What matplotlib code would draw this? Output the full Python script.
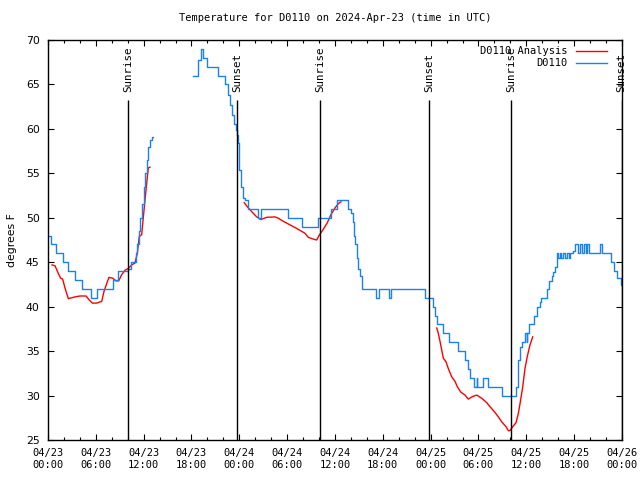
import numpy as np
import pandas as pd
import matplotlib
matplotlib.use('Agg')
import matplotlib.pyplot as plt
import matplotlib.dates as mdates

start = pd.Timestamp('2024-04-23 00:00')

# D0110 observations: hours after 04/23 00:00 UTC, temperature (deg F)
obs1_h = [0.0, 0.38, 1.0, 1.9, 2.5, 3.4, 4.3, 5.45, 6.1, 8.2, 8.8, 10.0, 10.35, 11.05,
          11.2, 11.45, 11.6, 11.8, 12.0, 12.2, 12.45, 12.6, 12.85, 13.1, 13.2]
obs1_t = [48, 47, 46, 45, 44, 43, 42, 41, 42, 43, 44, 44.2, 45, 46,
          47, 48.5, 50, 51.5, 53.5, 55, 56.5, 58, 58.8, 59.1, 59.1]

obs2_h = [18.23, 18.56, 18.85, 19.19, 19.48, 19.9, 21.36, 22.2, 22.6, 22.83, 23.04, 23.33,
          23.58, 23.75, 23.87, 24.0, 24.17, 24.42, 24.71, 25.05, 26.38, 26.72, 30.14, 31.92,
          33.93, 35.56, 36.25, 37.57, 37.97, 38.26, 38.38, 38.51, 38.7, 38.92, 39.14, 39.43,
          41.11, 41.46, 42.81, 42.99, 47.35, 48.33, 48.55, 48.76, 49.55, 50.3, 51.37, 52.25,
          52.72, 52.94, 53.47, 53.78, 53.85, 54.6, 55.23, 56.91, 58.71, 58.9, 59.0, 59.2,
          59.42, 59.83, 60.05, 60.12, 60.38, 60.96, 61.3, 61.72, 61.84, 62.53, 62.88, 63.18,
          63.38, 63.6, 63.81, 64.0, 64.22, 64.4, 64.6, 64.85, 65.1, 65.29, 65.48, 65.9,
          66.1, 66.48, 66.73, 66.98, 67.24, 67.49, 67.65, 67.9, 69.24, 69.46, 70.62, 71.04,
          71.34, 71.84, 72.0]
obs2_t = [66, 66, 67.7, 69, 68, 67, 66, 65, 63.8, 62.7, 61.6, 60.6,
          59.9, 59.3, 58.4, 55.4, 53.5, 52.2, 52, 51, 50, 51, 50, 49,
          50, 51, 52, 51, 50.5, 49.5, 48, 47, 45.5, 44.2, 43.4, 42,
          41, 42, 41, 42, 41, 40, 39, 38, 37, 36, 35, 34,
          33, 32, 31, 32, 31, 32, 31, 30, 31, 33, 34, 35.5,
          36, 37, 36, 37, 38, 39, 40, 40.5, 41, 42, 42.9, 43.4,
          43.9, 44.5, 46, 45.5, 46, 45.5, 46, 45.5, 46, 45.5, 46, 46.3,
          47, 46, 47, 46, 47, 46, 47, 46, 47, 46, 45, 44,
          43.2, 42.4, 42.4]

# D0110 Analysis
ana1_h = [0.5, 0.88, 1.29, 1.59, 1.84, 2.13, 2.55, 2.97, 3.39, 4.01, 4.77, 5.18, 5.56,
          6.11, 6.74, 7.02, 7.36, 7.65, 8.12, 8.53, 8.87, 9.24, 9.66, 10.07, 10.5, 10.91,
          11.2, 11.45, 11.75, 11.95, 12.17, 12.38, 12.58, 12.79]
ana1_t = [44.7, 44.6, 43.75, 43.2, 43.1, 42.1, 40.9, 41.0, 41.1, 41.2, 41.2, 40.75, 40.4,
          40.4, 40.6, 41.7, 42.6, 43.3, 43.2, 42.9, 42.9, 43.6, 44.1, 44.3, 44.7, 44.9,
          46, 47.9, 48.1, 50, 52, 53.9, 55.6, 55.7]

ana2_h = [24.62, 25.0, 25.34, 25.75, 26.18, 26.68, 27.43, 28.47, 28.89, 29.52, 30.36, 31.2,
          32.24, 32.65, 33.28, 33.7, 34.03, 34.53, 35.04, 35.46, 36.0, 36.42, 36.75]
ana2_t = [51.7, 51.25, 50.9, 50.5, 50.1, 49.8, 50.05, 50.1, 49.95, 49.6, 49.2, 48.8,
          48.25, 47.8, 47.6, 47.5, 48.05, 48.7, 49.45, 50.3, 51.1, 51.6, 51.8]

ana3_h = [48.76, 48.96, 49.17, 49.39, 49.59, 49.92, 50.21, 50.64, 51.05, 51.34, 51.77, 52.31,
          52.72, 53.27, 53.78, 54.4, 55.03, 55.44, 55.98, 56.49, 56.91, 57.45, 57.74, 57.95,
          58.29, 58.71, 59.0, 59.21, 59.55, 59.83, 60.12, 60.46, 60.8]
ana3_t = [37.6, 37.0, 36.1, 35.1, 34.2, 33.8, 33.05, 32.1, 31.6, 31.0, 30.4, 30.05,
          29.6, 29.9, 30.05, 29.7, 29.2, 28.75, 28.2, 27.6, 27.05, 26.5, 26.05, 26.05,
          26.5, 26.95, 28.0, 29.1, 31.0, 33.05, 34.4, 35.7, 36.6]

# sunrise / sunset
sun_h = [10.03, 23.71, 34.12, 47.79, 58.08, 71.95]
sun_lbl = ['Sunrise', 'Sunset', 'Sunrise', 'Sunset', 'Sunrise', 'Sunset']


def to_time(h):
    return start + pd.to_timedelta(np.array(h), unit='h')


mono = 'DejaVu Sans Mono'
red = '#ff0000'
blue = '#1a82f0'

fig = plt.figure(figsize=(6.4, 4.8), dpi=100)
ax = fig.add_axes([48 / 640, 40 / 480, 574 / 640, 400 / 480])

first = True
for h, t in [(ana1_h, ana1_t), (ana2_h, ana2_t), (ana3_h, ana3_t)]:
    ax.plot(to_time(h), t, color=red, lw=1.0, label='D0110 Analysis' if first else None)
    first = False
first = True
for h, t in [(obs1_h, obs1_t), (obs2_h, obs2_t)]:
    ax.plot(to_time(h), t, color=blue, lw=1.0, drawstyle='steps-post',
            label='D0110' if first else None)
    first = False

for h, lbl in zip(sun_h, sun_lbl):
    tt = to_time([h])[0]
    ax.vlines(tt, 25, 63.3, color='black', lw=1.0)
    ax.text(tt, 64.2, lbl, rotation=90, ha='center', va='bottom',
            fontsize=7.8, family=mono)

ax.set_xlim(start, start + pd.Timedelta(hours=72))
ax.set_ylim(25, 70)
ax.set_yticks(np.arange(25, 71, 5))
ax.xaxis.set_major_locator(mdates.HourLocator(byhour=[0, 6, 12, 18]))
ax.xaxis.set_minor_locator(mdates.HourLocator(interval=2))
ax.xaxis.set_major_formatter(mdates.DateFormatter('%m/%d\n%H:%M'))

ax.tick_params(which='both', direction='in', top=True, right=True, width=0.8)
ax.tick_params(which='major', length=4.5)
ax.tick_params(which='minor', length=2.5)
ax.tick_params(axis='x', labelsize=7.5, pad=6)
ax.tick_params(axis='y', labelsize=7.8, pad=6)
for lab in ax.get_xticklabels():
    lab.set_family(mono)
for s in ax.spines.values():
    s.set_linewidth(1.0)

ax.set_ylabel('degrees F', fontsize=7.8, labelpad=6)
ax.set_title('Temperature for D0110 on 2024-Apr-23 (time in UTC)',
             fontsize=7.5, family=mono, pad=14)

ax.legend(loc='upper right', frameon=False, markerfirst=False,
          prop={'family': mono, 'size': 7.5}, handlelength=3.0,
          handletextpad=0.8, labelspacing=0.2, borderaxespad=0.2,
          bbox_to_anchor=(0.985, 1.0))

fig.savefig('out.png', dpi=100)
